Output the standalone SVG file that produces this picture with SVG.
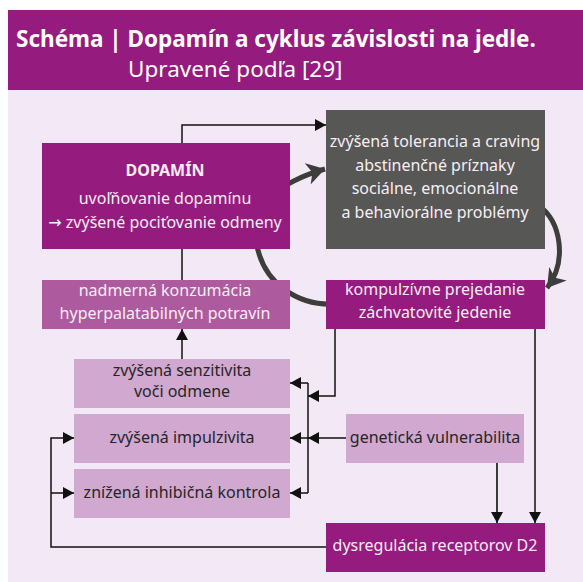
<svg xmlns="http://www.w3.org/2000/svg" width="583" height="582" viewBox="0 0 583 582">
<defs>
<style>
text{font-family:"Noto Sans","Open Sans","DejaVu Sans",sans-serif;font-size:16px;text-anchor:middle}
.w{fill:#f6eef5}
.d{fill:#262626}
.b{font-weight:bold}
.pur{fill:#961b7e}
.mid{fill:#ad5b9e}
.lt{fill:#d0a8d0}
.gr{fill:#575756}
.ln{fill:none;stroke:#111;stroke-width:1.5}
.cy{fill:none;stroke:#3d3d3b;stroke-width:5}
</style>
<marker id="ah" markerUnits="userSpaceOnUse" markerWidth="12" markerHeight="12" refX="11" refY="6" orient="auto"><path d="M0,0 L11,6 L0,12 Z" fill="#111"/></marker>
<marker id="ahc" markerUnits="userSpaceOnUse" markerWidth="20" markerHeight="22" refX="18" refY="11" orient="auto"><path d="M0,0 L18,11 L0,22 L5,11 Z" fill="#3d3d3b"/></marker>
</defs>
<rect x="0" y="0" width="583" height="582" fill="#ffffff"/>
<rect x="8" y="10" width="575" height="80" fill="#961b7e"/>
<rect x="8" y="90" width="575" height="492" fill="#f3e8f5"/>
<text x="16" y="47" class="w b" style="font-size:22.5px;text-anchor:start;fill:#fff">Schéma | Dopamín a cyklus závislosti na jedle.</text>
<text x="128" y="77" class="w" style="font-size:22.5px;text-anchor:start;fill:#fff">Upravené podľa [29]</text>

<g id="cycle">
<path class="cy" d="M270,196 C285,185 300,176 325,169" marker-end="url(#ahc)"/>
<path class="cy" d="M538,205 C562,222 567,262 547,288" marker-end="url(#ahc)"/>
<path class="cy" d="M335,304 C300,306 262,285 256,240"/>
</g>

<g id="connectors">
<path class="ln" d="M182,143 V125 H326" marker-end="url(#ah)"/>
<path class="ln" d="M182,249 V280"/>
<path class="ln" d="M182,359 V329" marker-end="url(#ah)"/>
<path class="ln" d="M335,329 V396 H308" marker-end="url(#ah)"/>
<path class="ln" d="M308,383 V493"/>
<path class="ln" d="M308,383 H290" marker-end="url(#ah)"/>
<path class="ln" d="M308,438 H290" marker-end="url(#ah)"/>
<path class="ln" d="M308,493 H290" marker-end="url(#ah)"/>
<path class="ln" d="M346,438 H308" marker-end="url(#ah)"/>
<path class="ln" d="M497,463 V523" style="stroke:#3a3a3a;stroke-width:2" marker-end="url(#ah)"/>
<path class="ln" d="M535,329 V523" marker-end="url(#ah)"/>
<path class="ln" d="M326,547 H51 V438 H74" marker-end="url(#ah)"/>
<path class="ln" d="M51,493 H74" marker-end="url(#ah)"/>
</g>

<g id="dopamin">
<rect x="42" y="143" width="248" height="106" class="pur"/>
<text x="165" y="176" class="w b">DOPAMÍN</text>
<text x="165" y="204" class="w">uvoľňovanie dopamínu</text>
<text x="165" y="228" class="w">→ zvýšené pociťovanie odmeny</text>
</g>
<g id="nadmerna">
<rect x="42" y="280" width="248" height="49" class="mid"/>
<text x="165" y="296" class="w">nadmerná konzumácia</text>
<text x="165" y="319" class="w">hyperpalatabilných potravín</text>
</g>
<g id="tolerancia">
<rect x="326" y="110" width="219" height="139" class="gr"/>
<text x="435" y="147" class="w">zvýšená tolerancia a craving</text>
<text x="435" y="171" class="w">abstinenčné príznaky</text>
<text x="435" y="194" class="w">sociálne, emocionálne</text>
<text x="435" y="218" class="w">a behaviorálne problémy</text>
</g>
<g id="kompulzivne">
<rect x="326" y="280" width="219" height="49" class="pur"/>
<text x="435" y="295" class="w">kompulzívne prejedanie</text>
<text x="435" y="318" class="w">záchvatovité jedenie</text>
</g>
<g id="senzitivita">
<rect x="74" y="359" width="216" height="49" class="lt"/>
<text x="182" y="375.5" class="d">zvýšená senzitivita</text>
<text x="182" y="396.5" class="d">voči odmene</text>
</g>
<g id="impulzivita">
<rect x="74" y="414" width="216" height="49" class="lt"/>
<text x="182" y="443" class="d">zvýšená impulzivita</text>
</g>
<g id="inhibicna">
<rect x="74" y="469" width="216" height="49" class="lt"/>
<text x="182" y="498" class="d">znížená inhibičná kontrola</text>
</g>
<g id="geneticka">
<rect x="346" y="414" width="178" height="49" class="lt"/>
<text x="435" y="443" class="d">genetická vulnerabilita</text>
</g>
<g id="dysregulacia">
<rect x="326" y="523" width="219" height="49" class="pur"/>
<text x="435" y="551" class="w">dysregulácia receptorov D2</text>
</g>
</svg>
